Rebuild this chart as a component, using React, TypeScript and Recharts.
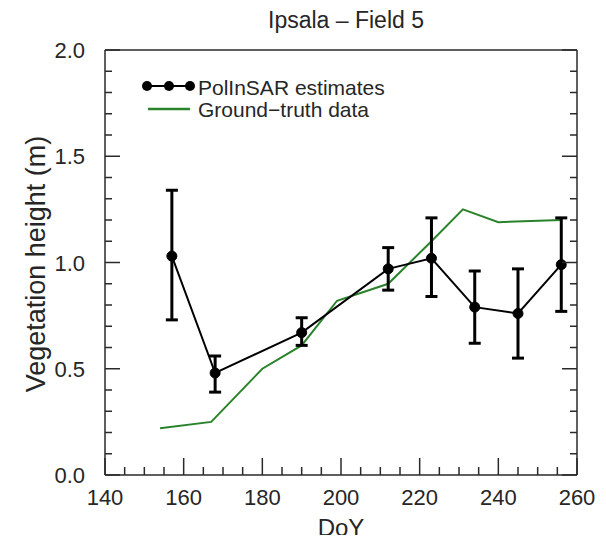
import React from "react";
import { ComposedChart, Line, XAxis, YAxis, ErrorBar } from "recharts";

const estDoy = [157, 168, 190, 212, 223, 234, 245, 256];
const estHeight = [1.03, 0.48, 0.67, 0.97, 1.02, 0.79, 0.76, 0.99];
const estLow = [0.73, 0.39, 0.61, 0.87, 0.84, 0.62, 0.55, 0.77];
const estHigh = [1.34, 0.56, 0.74, 1.07, 1.21, 0.96, 0.97, 1.21];

const gtDoy = [154, 167, 180, 190, 199, 212, 223, 231, 240, 256];
const gtHeight = [0.22, 0.25, 0.5, 0.61, 0.82, 0.9, 1.1, 1.25, 1.19, 1.2];

const xMajorTicks = [140, 160, 180, 200, 220, 240, 260];
const yMajorTicks = [0, 0.5, 1.0, 1.5, 2.0];

const xTicks: number[] = [];
for (let v = 140; v <= 260; v += 5) xTicks.push(v);
const yTicks: number[] = [];
for (let k = 0; k <= 20; k++) yTicks.push(Number((k * 0.1).toFixed(1)));

const estData = estDoy.map((d, i) => ({
  doy: d,
  h: estHeight[i],
  err: [estHeight[i] - estLow[i], estHigh[i] - estHeight[i]],
}));
const gtData = gtDoy.map((d, i) => ({ doy: d, h: gtHeight[i] }));

const AXIS = "#2a2a2a";
const TEXT = "#262626";
const FONT = "'Liberation Sans', Arial, Helvetica, sans-serif";
const GREEN = "#2a822a";

const isMajorX = (v: number) => xMajorTicks.includes(v);
const isMajorY = (v: number) => yMajorTicks.some((m) => Math.abs(m - v) < 1e-6);

// ticks point inwards, labels only on the major ones
const BottomTick = (props: any) => {
  const { x, y, payload } = props;
  const major = isMajorX(payload.value);
  return (
    <g>
      <line x1={x} x2={x} y1={y} y2={y - (major ? 17 : 8)} stroke={AXIS} strokeWidth={1.5} />
      {major && (
        <text x={x} y={y + 30} textAnchor="middle" fontSize={22} fontFamily={FONT} fill={TEXT}>
          {payload.value}
        </text>
      )}
    </g>
  );
};

const TopTick = (props: any) => {
  const { x, y, payload } = props;
  const major = isMajorX(payload.value);
  return <line x1={x} x2={x} y1={y} y2={y + (major ? 17 : 8)} stroke={AXIS} strokeWidth={1.5} />;
};

const LeftTick = (props: any) => {
  const { x, y, payload } = props;
  const major = isMajorY(payload.value);
  return (
    <g>
      <line x1={x} x2={x + (major ? 15 : 7)} y1={y} y2={y} stroke={AXIS} strokeWidth={1.5} />
      {major && (
        <text x={x - 20} y={y + 8} textAnchor="end" fontSize={22} fontFamily={FONT} fill={TEXT}>
          {Number(payload.value).toFixed(1)}
        </text>
      )}
    </g>
  );
};

const RightTick = (props: any) => {
  const { x, y, payload } = props;
  const major = isMajorY(payload.value);
  return <line x1={x} x2={x - (major ? 15 : 7)} y1={y} y2={y} stroke={AXIS} strokeWidth={1.5} />;
};

export default function App() {
  return (
    <div style={{ position: "relative", width: 606, height: 543, margin: -8, background: "#fff" }}>
      <ComposedChart
        width={606}
        height={543}
        margin={{ top: 49, right: 28, bottom: 0, left: 0 }}
      >
        <XAxis
          xAxisId="bottom"
          dataKey="doy"
          type="number"
          domain={[140, 260]}
          ticks={xTicks}
          interval={0}
          allowDataOverflow
          height={68}
          tickSize={0}
          tickMargin={0}
          tickLine={false}
          tick={<BottomTick />}
          stroke={AXIS}
          strokeWidth={1.5}
        />
        <XAxis
          xAxisId="top"
          orientation="top"
          type="number"
          domain={[140, 260]}
          ticks={xTicks}
          interval={0}
          allowDataOverflow
          height={1}
          tickSize={0}
          tickMargin={0}
          tickLine={false}
          tick={<TopTick />}
          stroke={AXIS}
          strokeWidth={1.5}
        />
        <YAxis
          yAxisId="left"
          type="number"
          domain={[0, 2]}
          ticks={yTicks}
          interval={0}
          allowDataOverflow
          width={105}
          tickSize={0}
          tickMargin={0}
          tickLine={false}
          tick={<LeftTick />}
          stroke={AXIS}
          strokeWidth={1.5}
        />
        <YAxis
          yAxisId="right"
          orientation="right"
          type="number"
          domain={[0, 2]}
          ticks={yTicks}
          interval={0}
          allowDataOverflow
          width={1}
          tickSize={0}
          tickMargin={0}
          tickLine={false}
          tick={<RightTick />}
          stroke={AXIS}
          strokeWidth={1.5}
        />
        <Line
          xAxisId="bottom"
          yAxisId="left"
          data={gtData}
          dataKey="h"
          type="linear"
          stroke={GREEN}
          strokeWidth={2}
          dot={false}
          activeDot={false}
          isAnimationActive={false}
        />
        <Line
          xAxisId="bottom"
          yAxisId="left"
          data={estData}
          dataKey="h"
          type="linear"
          stroke="#000"
          strokeWidth={2}
          dot={{ r: 5, fill: "#000", stroke: "#000", strokeWidth: 1 }}
          activeDot={false}
          isAnimationActive={false}
        >
          <ErrorBar dataKey="err" direction="y" width={6} stroke="#000" strokeWidth={3} />
        </Line>
      </ComposedChart>

      <svg
        width={606}
        height={543}
        style={{ position: "absolute", left: 0, top: 0, pointerEvents: "none" }}
      >
        <text x={346} y={28} textAnchor="middle" fontSize={23} fontFamily={FONT} fill={TEXT}>
          Ipsala – Field 5
        </text>
        <text x={341} y={536} textAnchor="middle" fontSize={24} fontFamily={FONT} fill={TEXT}>
          DoY
        </text>
        <text
          x={0}
          y={0}
          transform="translate(45, 264) rotate(-90)"
          textAnchor="middle"
          fontSize={27}
          fontFamily={FONT}
          fill={TEXT}
        >
          Vegetation height (m)
        </text>
        <line x1={147} x2={190} y1={86} y2={86} stroke="#000" strokeWidth={2} />
        {[147, 169, 190].map((cx) => (
          <circle key={cx} cx={cx} cy={86} r={5} fill="#000" />
        ))}
        <text x={198} y={95} fontSize={21} fontFamily={FONT} fill={TEXT}>
          PolInSAR estimates
        </text>
        <line x1={148} x2={190} y1={109} y2={109} stroke={GREEN} strokeWidth={2.5} />
        <text x={198} y={117} fontSize={21} fontFamily={FONT} fill={TEXT}>
          Ground−truth data
        </text>
      </svg>
    </div>
  );
}
